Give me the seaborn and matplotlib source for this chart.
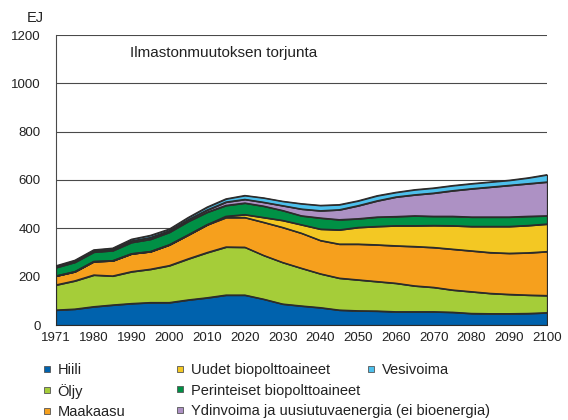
import numpy as np
import pandas as pd
import matplotlib
matplotlib.use("Agg")
import matplotlib.pyplot as plt
from matplotlib.lines import Line2D
import seaborn as sns

# vuodet (kategoria-akseli, 5 v välein)
years = ["1971", "1975", "1980", "1985", "1990", "1995", "2000", "2005", "2010",
         "2015", "2020", "2025", "2030", "2035", "2040", "2045", "2050", "2055",
         "2060", "2065", "2070", "2075", "2080", "2085", "2090", "2095", "2100"]

# EJ per lähde (luettu kuvasta)
hiili = [62, 66, 76, 83, 89, 93, 93, 104, 113, 124, 124, 107, 87, 79, 72, 62, 59, 58,
         55, 55, 55, 53, 48, 47, 47, 48, 51]
oljy = [104, 117, 131, 120, 132, 138, 153, 170, 187, 199, 198, 181, 172, 156, 140, 132,
        128, 122, 118, 107, 101, 92, 90, 84, 80, 76, 71]
maakaasu = [37, 38, 56, 63, 74, 73, 86, 99, 115, 122, 123, 137, 145, 145, 138, 141, 148,
            152, 155, 163, 165, 169, 169, 169, 170, 175, 182]
uudet_bio = [0, 0, 0, 0, 0, 0, 0, 0, 0, 5, 12, 20, 29, 35, 47, 59, 69, 76, 83, 86, 91,
             97, 101, 108, 111, 113, 114]
perint_bio = [35, 39, 39, 42, 47, 51, 52, 56, 52, 45, 48, 47, 41, 37, 46, 42, 36, 39, 38,
              41, 38, 39, 39, 39, 39, 38, 34]
ydin_uusiut = [3, 4, 4, 4, 6, 7, 6, 7, 9, 14, 15, 16, 20, 28, 30, 41, 54, 67, 81, 87, 96,
               106, 117, 124, 131, 135, 140]
vesi = [4, 4, 5, 6, 7, 9, 7, 9, 12, 13, 16, 18, 18, 22, 22, 21, 20, 21, 19, 21, 21, 21,
        21, 21, 21, 24, 30]

labels = ["Hiili", "Öljy", "Maakaasu", "Uudet biopolttoaineet",
          "Perinteiset biopolttoaineet",
          "Ydinvoima ja uusiutuvaenergia (ei bioenergia)", "Vesivoima"]
colors = ["#0062ad", "#a5cd39", "#f6a01d", "#f3c823", "#009045", "#ad91c4", "#4dc0ec"]

df = pd.DataFrame({"vuosi": years, labels[0]: hiili, labels[1]: oljy,
                   labels[2]: maakaasu, labels[3]: uudet_bio, labels[4]: perint_bio,
                   labels[5]: ydin_uusiut, labels[6]: vesi})

sns.set_style("white")
plt.rcParams["font.family"] = ["Liberation Sans", "DejaVu Sans"]

fig = plt.figure(figsize=(5.68, 4.2), dpi=100)
ax = fig.add_axes([56 / 568, 1 - 325 / 420, (547 - 56) / 568, (325 - 35) / 420])

x = np.arange(len(years))
ax.stackplot(x, [df[l] for l in labels], colors=colors, edgecolor="#2b2b2b",
             linewidth=0.9, zorder=3)

# rajaviivat seabornilla
cum = df[labels].cumsum(axis=1)
for l in labels:
    sns.lineplot(x=x, y=cum[l].values, ax=ax, color="#2b2b2b", linewidth=0.9,
                 zorder=4, legend=False)

ax.set_xlim(0, len(years) - 1)
ax.set_ylim(0, 1200)
ax.set_yticks(range(0, 1201, 200))
ax.set_xticks(x)
ax.set_xticklabels([y if i % 2 == 0 else "" for i, y in enumerate(years)])
ax.yaxis.grid(True, color="#4a4a4a", linewidth=0.8, zorder=0)
ax.xaxis.grid(False)
ax.set_axisbelow(True)
for s in ["top", "right"]:
    ax.spines[s].set_visible(False)
for s in ["left", "bottom"]:
    ax.spines[s].set_color("#4a4a4a")
    ax.spines[s].set_linewidth(0.8)
ax.tick_params(axis="both", which="both", direction="out", length=3, width=0.8,
               color="#4a4a4a", labelsize=9.5, colors="#222222")
ax.tick_params(axis="y", pad=8)
ax.tick_params(axis="x", pad=2)
ax.set_xlabel("")
ax.set_ylabel("")

fig.text(27 / 568, 1 - 18 / 420, "EJ", fontsize=10.5, va="center", ha="left",
         color="#222222")
fig.text(130 / 568, 1 - 53 / 420, "Ilmastonmuutoksen torjunta", fontsize=11,
         va="center", ha="left", color="#222222")


def handle(c):
    return Line2D([], [], marker="s", markersize=4, markerfacecolor=c,
                  markeredgecolor="#555555", markeredgewidth=0.6, linestyle="none")


groups = [([0, 1, 2], 43), ([3, 4, 5], 176), ([6], 367)]
for idx, xpos in groups:
    leg = fig.legend([handle(colors[i]) for i in idx], [labels[i] for i in idx],
                     loc="upper left", bbox_to_anchor=(xpos / 568, 1 - 363 / 420),
                     frameon=False, fontsize=10.5, handlelength=0.6,
                     handletextpad=0.4, labelspacing=0.45, borderpad=0,
                     borderaxespad=0)
    for t in leg.get_texts():
        t.set_color("#222222")

fig.savefig("out.png", dpi=100)
